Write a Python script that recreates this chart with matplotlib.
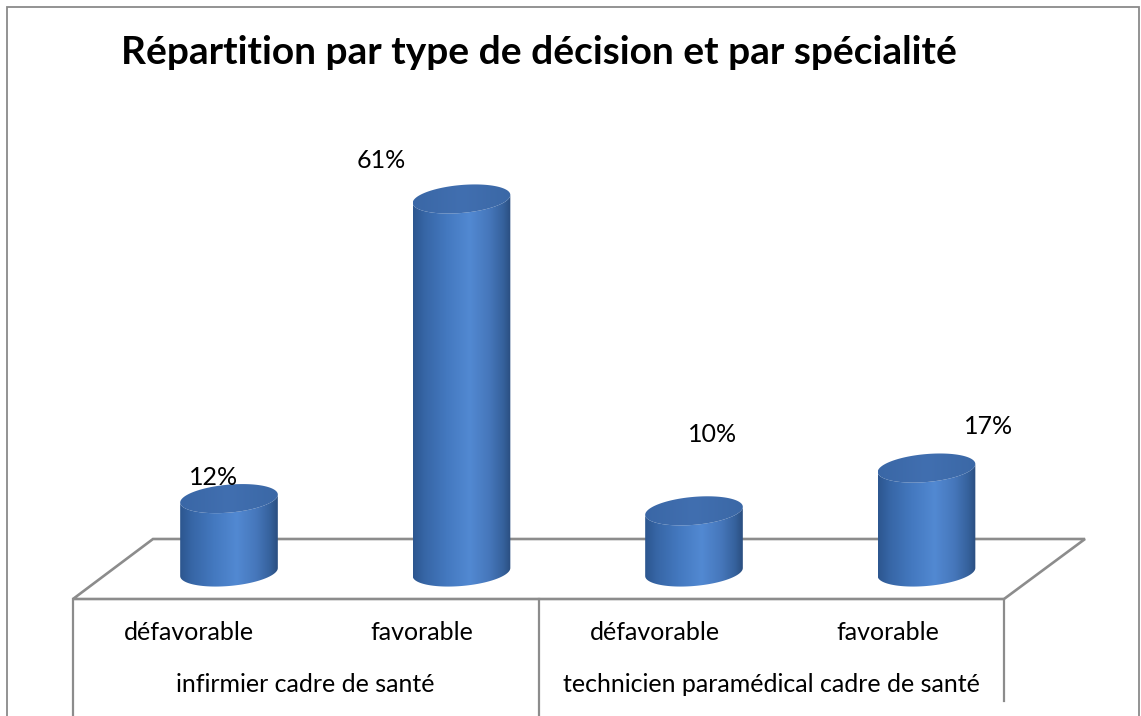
import numpy as np
import matplotlib
matplotlib.use("Agg")
import matplotlib.pyplot as plt
from matplotlib.patches import Polygon
from matplotlib.colors import LinearSegmentedColormap

# ---------------- data ----------------
title = "Répartition par type de décision et par spécialité"
categories = ["défavorable", "favorable", "défavorable", "favorable"]
groups = ["infirmier cadre de santé", "technicien paramédical cadre de santé"]
group_sizes = [2, 2]
values = [12, 61, 10, 17]
value_labels = ["12%", "61%", "10%", "17%"]

# ---------------- style ----------------
W, H = 1141, 716
FONT = ["Lato", "DejaVu Sans"]
GRID = "#8c8c8c"
label_offsets_px = [(-15, 21), (-80, 38), (19, 76), (62, 42)]

fig = plt.figure(figsize=(W / 100, H / 100), dpi=100)
fig.patch.set_facecolor("white")

# overlay axes in pixel units for chart decoration (floor, frame, texts)
deco = fig.add_axes([0, 0, 1, 1])
deco.set_xlim(0, W)
deco.set_ylim(H, 0)
deco.axis("off")

# chart border
deco.plot([7, 7, 1139, 1139], [H, 7, 7, H], color="#8a8a8a", lw=1.3, solid_joinstyle="miter")

# title
deco.text(539, 53, title, ha="center", va="center", fontsize=28, fontweight="bold",
          family=FONT, color="black")

# floor (3D base)
front_l, front_r, front_y = 73, 1004, 599
back_l, back_r, back_y = 153, 1085, 539
floor = Polygon([[front_l, front_y], [back_l, back_y], [back_r, back_y], [front_r, front_y]],
                closed=True, facecolor="white", edgecolor=GRID, lw=1.9, joinstyle="miter")
deco.add_patch(floor)

# category axis table lines
n = len(categories)
slot = (front_r - front_l) / n
deco.plot([front_l, front_l], [front_y, H], color=GRID, lw=1.6)
pos = 0
for gi, gs in enumerate(group_sizes):
    pos += gs
    x = front_l + pos * slot
    yend = H if gi < len(group_sizes) - 1 else 701
    deco.plot([x, x], [front_y, yend], color=GRID, lw=1.6)

for i, c in enumerate(categories):
    deco.text(front_l + (i + 0.5) * slot, 633, c, ha="center", va="center",
              fontsize=18, family=FONT, color="black")
start = 0
for g, gs in zip(groups, group_sizes):
    deco.text(front_l + (start + gs / 2) * slot, 684, g, ha="center", va="center",
              fontsize=18, family=FONT, color="black")
    start += gs

# ---------------- data axes for cylinders ----------------
k = 6.115          # px per unit
y0_px = 572        # pixel row of value 0
ymin, ymax = -8, 72
x_left_px = 112.75
x_w_px = 930
ax = fig.add_axes([x_left_px / W, (H - (y0_px + (-ymin) * k)) / H,
                   x_w_px / W, (ymax - ymin) * k / H])
ax.set_facecolor("none")
ax.axis("off")

half_w = 0.21                # half width in category units
b = 14 / k                   # ellipse half height in value units
s = 4 / k                    # tilt (right side higher)

body_cmap = LinearSegmentedColormap.from_list("body", [
    (0.0, "#2c568f"), (0.12, "#3766a6"), (0.35, "#4479c0"), (0.58, "#5289d2"),
    (0.78, "#4677bb"), (0.92, "#36629d"), (1.0, "#2a4e80")])
cap_cmap = LinearSegmentedColormap.from_list("cap", [
    (0.0, "#3a67a6"), (0.5, "#416fb0"), (1.0, "#3b68a6")])

t_low = np.linspace(np.pi, 2 * np.pi, 80)
t_full = np.linspace(0, 2 * np.pi, 160)

for i, v in enumerate(values):
    cx = i
    xs_low = cx + half_w * np.cos(t_low)
    body = np.vstack([
        [[cx - half_w, v - s]],
        np.column_stack([xs_low, 0 + b * np.sin(t_low) + s * np.cos(t_low)]),
        [[cx + half_w, v + s]],
        np.column_stack([xs_low[::-1], v + b * np.sin(t_low[::-1]) + s * np.cos(t_low[::-1])]),
    ])
    body_patch = Polygon(body, closed=True, facecolor="none", edgecolor="none")
    ax.add_patch(body_patch)
    grad = np.linspace(0, 1, 256).reshape(1, -1)
    im = ax.imshow(grad, cmap=body_cmap, aspect="auto", interpolation="bicubic",
                   extent=[cx - half_w, cx + half_w, -b - s - 1, v + b + s + 1], zorder=2)
    im.set_clip_path(body_patch)

    cap = np.column_stack([cx + half_w * np.cos(t_full),
                           v + b * np.sin(t_full) + s * np.cos(t_full)])
    cap_patch = Polygon(cap, closed=True, facecolor="none", edgecolor="none")
    ax.add_patch(cap_patch)
    im2 = ax.imshow(grad, cmap=cap_cmap, aspect="auto", interpolation="bicubic",
                    extent=[cx - half_w, cx + half_w, v - b - s, v + b + s], zorder=3)
    im2.set_clip_path(cap_patch)

    dx, dy = label_offsets_px[i]
    ax.annotate(value_labels[i], xy=(cx, v), xytext=(dx, dy), textcoords="offset pixels",
                ha="center", va="center", fontsize=18, family=FONT, color="black", zorder=5)

ax.set_xlim(-0.5, n - 0.5)
ax.set_ylim(ymin, ymax)

fig.savefig("out.png", dpi=100, facecolor="white")
